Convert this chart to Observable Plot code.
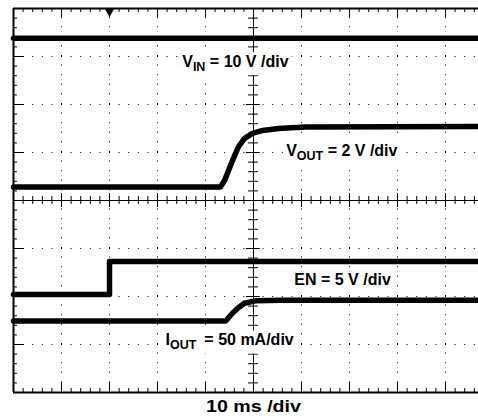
<!DOCTYPE html>
<html>
<head>
<meta charset="utf-8">
<script src="https://cdn.jsdelivr.net/npm/d3@7"></script>
<script src="https://cdn.jsdelivr.net/npm/@observablehq/plot@0.6"></script>
<style>
  html, body { margin: 0; padding: 0; background: #fff; overflow: hidden; }
  svg { overflow: hidden; }
</style>
</head>
<body>
<script>
// Time axis in ms (10 ms/div, trigger at t = 0); vertical in screen divisions from centre.
const vinT  = [-20, 80];
const vinD  = [3.38, 3.38];

const voutT = [-20, 23.1, 24.0, 24.8, 25.8, 26.9, 28.1, 29.8, 31.9, 35.2, 40.8, 80];
const voutD = [0.28, 0.28, 0.42, 0.625, 0.875, 1.125, 1.29, 1.40, 1.46, 1.50, 1.53, 1.54];

const enT   = [-20, 0, 0, 80];
const enD   = [-1.96, -1.96, -1.27, -1.27];

const ioutT = [-20, 24.2, 25.6, 26.9, 28.1, 30.4, 35.6, 80];
const ioutD = [-2.51, -2.51, -2.35, -2.23, -2.14, -2.09, -2.08, -2.08];

const labelPre  = ["V", "V", "EN = 5 V /div", "I"];
const labelSub  = ["IN", "OUT", "", "OUT"];
const labelPost = [" = 10 V /div", " = 2 V /div", "", "= 50 mA/div"];
const labelT    = [15.15, 36.8, 38.5, 11.67];
const labelD    = [2.777, 0.923, -1.765, -3.02];

const xLabel = ["10 ms /div"];
const xLabelT = [30];
const xLabelD = [-4.4];

const trigT = [0];

// structural grid helpers
const divX = d3.range(-20, 81, 10);
const divY = d3.range(-4, 4.01, 1);
const minorX = d3.range(-20, 80.01, 2);
const minorY = d3.range(-4, 4.01, 0.2).map(v => +v.toFixed(2));
const pxX = 10 / 48, pxY = 1 / 48;
const isDiv = v => Math.abs(v - Math.round(v)) < 1e-6;

const trace = (T, D) => T.map((t, i) => ({t, d: D[i]}));
const labels = labelPre.map((p, i) => ({p, t: labelT[i], d: labelD[i]}));
const xLabels = xLabel.map((p, i) => ({p, t: xLabelT[i], d: xLabelD[i]}));

const chart = Plot.plot({
  width: 478, height: 418,
  marginTop: 0, marginBottom: 0, marginLeft: 0, marginRight: 0,
  style: {background: "#fff", fontFamily: "Arial, 'Liberation Sans', sans-serif"},
  x: {domain: [-20, 80], range: [13, 493], axis: null},
  y: {domain: [-4, 4], range: [392, 8], axis: null},
  marks: [
    // dotted grid
    Plot.ruleX(divX.filter(v => v !== 30 && v !== -20), {x: d => d, y1: -4, y2: 4, stroke: "#000", strokeWidth: 1, strokeDasharray: "1,8.6"}),
    Plot.ruleY(divY.filter(v => v !== 0 && Math.abs(v) !== 4), {y: d => d, x1: -20, x2: 80, stroke: "#000", strokeWidth: 1, strokeDasharray: "1,8.6"}),
    // centre axes
    Plot.ruleY([0], {y: d => d, x1: -20, x2: 80, stroke: "#000", strokeWidth: 1}),
    Plot.ruleX([30], {x: d => d, y1: -4, y2: 4, stroke: "#000", strokeWidth: 1}),
    Plot.ruleX(minorX, {x: d => d, y1: d => (d % 10 === 0 ? -7 : -4) * pxY, y2: d => (d % 10 === 0 ? 7 : 4) * pxY, stroke: "#000"}),
    Plot.ruleY(minorY, {y: d => d, x1: d => 30 - (isDiv(d) ? 7 : 5) * pxX, x2: d => 30 + (isDiv(d) ? 7 : 5) * pxX, stroke: "#000"}),
    // edge ticks
    Plot.ruleX(minorX, {x: d => d, y1: 4, y2: d => 4 - (d % 10 === 0 ? 10 : 4) * pxY, stroke: "#000"}),
    Plot.ruleX(minorX, {x: d => d, y1: -4, y2: d => -4 + (d % 10 === 0 ? 10 : 4) * pxY, stroke: "#000"}),
    Plot.ruleY(minorY, {y: d => d, x1: -20, x2: d => -20 + (isDiv(d) ? 11 : 4) * pxX, stroke: "#000"}),
    // frame
    Plot.ruleY([-4, 4], {y: d => d, x1: -20, x2: 80, stroke: "#000", strokeWidth: 2}),
    Plot.ruleX([-20], {x: d => d, y1: -4, y2: 4, stroke: "#000", strokeWidth: 2}),
    // traces
    Plot.line(trace(vinT, vinD), {x: "t", y: "d", stroke: "#000", strokeWidth: 5.5}),
    Plot.line(trace(voutT, voutD), {x: "t", y: "d", stroke: "#000", strokeWidth: 5.5}),
    Plot.line(trace(enT, enD), {x: "t", y: "d", stroke: "#000", strokeWidth: 5.5}),
    Plot.line(trace(ioutT, ioutD), {x: "t", y: "d", stroke: "#000", strokeWidth: 5.5}),
    // trigger marker
    Plot.dot(trigT, {x: d => d, y: 4 - 3.2 * pxY, symbol: "triangle", r: 3.4, rotate: 180, fill: "#000", stroke: "none"}),
    // labels
    Plot.text(labels, {x: "t", y: "d", text: "p", textAnchor: "start", lineAnchor: "bottom", fontSize: 16, fontWeight: "bold", fill: "#000"}),
    Plot.text(xLabels, {x: "t", y: "d", text: "p", textAnchor: "middle", lineAnchor: "bottom", fontSize: 16, fontWeight: "bold", fill: "#000"})
  ]
});
document.body.appendChild(chart);

// subscripts on the trace labels, and a white box behind each one (the scope clears the graticule there)
const ns = "http://www.w3.org/2000/svg";
const textGroups = chart.querySelectorAll('g[aria-label="text"]');
if (textGroups.length >= 1) {
  const g0 = textGroups[0];
  g0.querySelectorAll("text").forEach((el, i) => {
    if (labelSub[i]) {
      el.textContent = "";
      const a = document.createElementNS(ns, "tspan"); a.textContent = labelPre[i];
      const b = document.createElementNS(ns, "tspan"); b.textContent = labelSub[i];
      b.setAttribute("dy", "4"); b.setAttribute("font-size", "12.5");
      const c = document.createElementNS(ns, "tspan"); c.textContent = labelPost[i];
      c.setAttribute("dy", "-4");
      if (i === 3) c.setAttribute("dx", "8");
      el.append(a, b, c);
    }
    try {
      const bb = el.getBBox();
      const ctm = el.getCTM();
      const r = document.createElementNS(ns, "rect");
      const ox = ctm ? ctm.e : 0, oy = ctm ? ctm.f : 0;
      r.setAttribute("x", bb.x + ox - 3);
      r.setAttribute("y", bb.y + oy - 1);
      r.setAttribute("width", bb.width + 6);
      r.setAttribute("height", bb.height + 2);
      r.setAttribute("fill", "#fff");
      chart.insertBefore(r, g0);
    } catch (e) {}
  });
}
if (textGroups.length >= 2) {
  const tl = textGroups[1].querySelector("text");
  if (tl) { tl.setAttribute("textLength", "95"); tl.setAttribute("lengthAdjust", "spacingAndGlyphs"); }
}
</script>
</body>
</html>
